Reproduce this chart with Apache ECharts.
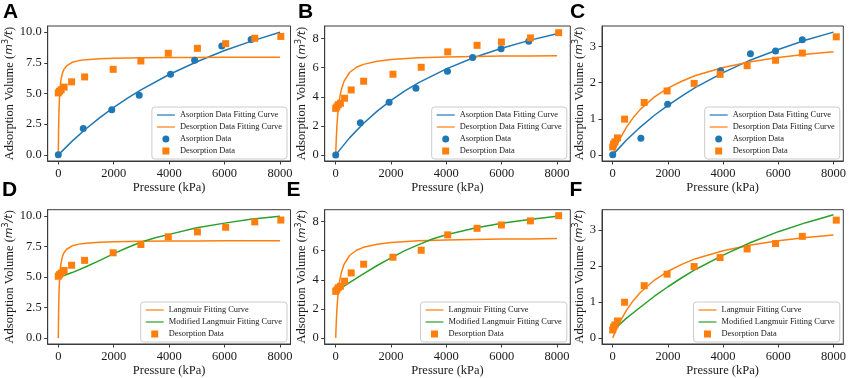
<!DOCTYPE html>
<html><head><meta charset="utf-8">
<script src="https://cdn.jsdelivr.net/npm/echarts@6/dist/echarts.min.js"></script>
<style>html,body{margin:0;padding:0;background:#fff}#c{width:850px;height:378px}</style>
</head><body><div id="c"></div>
<script>
// ---------- tick labels ----------
const pressureTicks = [0, 2000, 4000, 6000, 8000];
const ticksAD = [0, 2.5, 5, 7.5, 10];
const ticksBE = [0, 2, 4, 6, 8];
const ticksCF = [0, 1, 2, 3];

// ---------- Panel A / D ----------
const adsA_P = [0, 900, 1930, 2920, 4050, 4920, 5900, 6960];
const adsA_V = [0, 2.15, 3.68, 4.85, 6.57, 7.71, 8.88, 9.40];
const desA_P = [0, 40, 100, 210, 480, 950, 1980, 2980, 3970, 5020, 6040, 7090, 8030];
const desA_V = [5.05, 5.18, 5.3, 5.52, 5.95, 6.35, 6.97, 7.65, 8.28, 8.68, 9.06, 9.5, 9.65];
const fitAdsA_P = [0, 500, 1000, 1500, 2000, 2500, 3000, 4000, 5000, 6000, 7000, 8000];
const fitAdsA_V = [0, 1.12, 2.13, 3.04, 3.87, 4.63, 5.32, 6.55, 7.59, 8.50, 9.29, 9.99];
const langA_P = [0, 5, 10, 20, 30, 50, 75, 100, 150, 200, 300, 500, 750, 1000, 1500, 2000, 3000, 4000, 5000, 6000, 7000, 8000];
const langA_V = [0, 1.14, 2.0, 3.2, 4.0, 4.99, 5.71, 6.15, 6.66, 6.95, 7.26, 7.54, 7.68, 7.76, 7.83, 7.87, 7.91, 7.93, 7.94, 7.95, 7.96, 7.96];
const modA_P = [0, 250, 500, 1000, 1500, 2000, 2500, 3000, 3500, 4000, 5000, 6000, 7000, 8000];
const modA_V = [5.0, 5.15, 5.35, 5.83, 6.35, 6.9, 7.4, 7.85, 8.2, 8.48, 9.03, 9.4, 9.73, 9.97];

// ---------- Panel B / E ----------
const adsB_P = [0, 890, 1930, 2900, 4040, 4950, 5980, 6980];
const adsB_V = [0, 2.22, 3.63, 4.59, 5.76, 6.70, 7.31, 7.82];
const desB_P = [0, 40, 90, 170, 320, 560, 1010, 2070, 3090, 4050, 5110, 5990, 7040, 8060];
const desB_V = [3.2, 3.3, 3.45, 3.55, 3.9, 4.47, 5.07, 5.55, 6.03, 7.09, 7.54, 7.77, 8.05, 8.41];
const fitAdsB_P = [0, 500, 1000, 1500, 2000, 2500, 3000, 4000, 5000, 6000, 7000, 8000];
const fitAdsB_V = [0, 1.17, 2.16, 3.01, 3.75, 4.40, 4.97, 5.92, 6.70, 7.34, 7.88, 8.34];
const langB_P = [0, 10, 25, 50, 75, 100, 150, 200, 300, 500, 750, 1000, 1500, 2000, 3000, 4000, 5000, 6000, 7000, 8000];
const langB_V = [0, 0.58, 1.28, 2.16, 2.81, 3.30, 3.99, 4.46, 5.06, 5.67, 6.03, 6.23, 6.45, 6.56, 6.68, 6.73, 6.77, 6.80, 6.81, 6.83];
const modB_P = [0, 250, 500, 1000, 1500, 2000, 2500, 3000, 3500, 4000, 5000, 6000, 7000, 8000];
const modB_V = [3.15, 3.5, 3.8, 4.4, 4.98, 5.5, 6.0, 6.42, 6.8, 7.1, 7.55, 7.88, 8.15, 8.37];

// ---------- Panel C / F ----------
const adsC_P = [0, 1020, 1990, 3910, 4990, 5900, 6870];
const adsC_V = [0, 0.46, 1.40, 2.33, 2.80, 2.88, 3.19];
const desC_P = [0, 30, 80, 170, 430, 1140, 1970, 2950, 3890, 4870, 5900, 6870, 8100];
const desC_V = [0.22, 0.3, 0.36, 0.47, 0.99, 1.45, 1.77, 1.98, 2.23, 2.47, 2.62, 2.82, 3.27];
const fitAdsC_P = [0, 500, 1000, 1500, 2000, 2500, 3000, 4000, 5000, 6000, 7000, 8000];
const fitAdsC_V = [0, 0.41, 0.77, 1.09, 1.37, 1.63, 1.87, 2.28, 2.63, 2.92, 3.18, 3.40];
const langC_P = [0, 100, 250, 500, 750, 1000, 1500, 2000, 2500, 3000, 4000, 5000, 6000, 7000, 8000];
const langC_V = [0, 0.19, 0.43, 0.77, 1.04, 1.26, 1.60, 1.85, 2.04, 2.20, 2.42, 2.58, 2.70, 2.79, 2.86];
const modC_P = [0, 500, 1000, 1500, 2000, 2500, 3000, 4000, 5000, 6000, 7000, 8000];
const modC_V = [0.2, 0.55, 0.85, 1.15, 1.42, 1.67, 1.9, 2.3, 2.65, 2.95, 3.2, 3.42];

// ---------- names ----------
const N_FA = 'Asorption Data Fitting Curve';
const N_FD = 'Desorption Data Fitting Curve';
const N_A = 'Asorption Data';
const N_D = 'Desorption Data';
const N_L = 'Langmuir Fitting Curve';
const N_M = 'Modified Langmuir Fitting Curve';

// ---------- styling / layout ----------
const BLUE = '#1f77b4', ORANGE = '#ff7f0e', GREEN = '#2ca02c';
const SERIF = '"Liberation Serif", "Times New Roman", serif';
const SQUARE = 'path://M0,0L10,0L10,10L0,10Z';
const LINEICON = 'path://M0,0L24,0L24,1.6L0,1.6Z';
const FRAME = '#3a3a3a', TXT = '#1a1a1a';
const zip = (a, b) => a.map((v, i) => [v, b[i]]);

const cols = [
  {left: 47.7, right: 290.5, xmin: -383, xmax: 8380, gap: 30},
  {left: 324.7, right: 570.3, xmin: -398, xmax: 8481, gap: 14},
  {left: 602, right: 843.3, xmin: -389, xmax: 8355, gap: 13}
];
const rows = [{top: 26, bottom: 161}, {top: 209.7, bottom: 344}];

function line(name, P, V, color) {
  return {type: 'line', name, data: zip(P, V), symbol: 'none', showSymbol: false,
    lineStyle: {color, width: 1.5}, itemStyle: {color}, z: 2, animation: false};
}
function scat(name, P, V, color, sym) {
  return {type: 'scatter', name, data: zip(P, V), symbol: sym === 'sq' ? 'rect' : 'circle',
    symbolSize: 7, itemStyle: {color, opacity: 1}, z: 3, animation: false};
}

const panels = [
  {letter: 'A', col: 0, row: 0, ymin: -0.5, ymax: 10.5, yticks: ticksAD, dec: 1,
   series: [line(N_FA, fitAdsA_P, fitAdsA_V, BLUE), line(N_FD, langA_P, langA_V, ORANGE),
            scat(N_A, adsA_P, adsA_V, BLUE, 'c'), scat(N_D, desA_P, desA_V, ORANGE, 'sq')],
   legend: [N_FA, N_FD, N_A, N_D]},
  {letter: 'B', col: 1, row: 0, ymin: -0.42, ymax: 8.87, yticks: ticksBE, dec: 0,
   series: [line(N_FA, fitAdsB_P, fitAdsB_V, BLUE), line(N_FD, langB_P, langB_V, ORANGE),
            scat(N_A, adsB_P, adsB_V, BLUE, 'c'), scat(N_D, desB_P, desB_V, ORANGE, 'sq')],
   legend: [N_FA, N_FD, N_A, N_D]},
  {letter: 'C', col: 2, row: 0, ymin: -0.17, ymax: 3.57, yticks: ticksCF, dec: 0,
   series: [line(N_FA, fitAdsC_P, fitAdsC_V, BLUE), line(N_FD, langC_P, langC_V, ORANGE),
            scat(N_A, adsC_P, adsC_V, BLUE, 'c'), scat(N_D, desC_P, desC_V, ORANGE, 'sq')],
   legend: [N_FA, N_FD, N_A, N_D]},
  {letter: 'D', col: 0, row: 1, ymin: -0.5, ymax: 10.5, yticks: ticksAD, dec: 1,
   series: [line(N_L, langA_P, langA_V, ORANGE), line(N_M, modA_P, modA_V, GREEN),
            scat(N_D, desA_P, desA_V, ORANGE, 'sq')],
   legend: [N_L, N_M, N_D]},
  {letter: 'E', col: 1, row: 1, ymin: -0.42, ymax: 8.82, yticks: ticksBE, dec: 0,
   series: [line(N_L, langB_P, langB_V, ORANGE), line(N_M, modB_P, modB_V, GREEN),
            scat(N_D, desB_P, desB_V, ORANGE, 'sq')],
   legend: [N_L, N_M, N_D]},
  {letter: 'F', col: 2, row: 1, ymin: -0.17, ymax: 3.56, yticks: ticksCF, dec: 0,
   series: [line(N_L, langC_P, langC_V, ORANGE), line(N_M, modC_P, modC_V, GREEN),
            scat(N_D, desC_P, desC_V, ORANGE, 'sq')],
   legend: [N_L, N_M, N_D]}
];
const letterPos = {A: [3, 2], B: [298, 2], C: [570, 2], D: [2, 179.5], E: [286.5, 179.5], F: [569.5, 179.5]};

const option = {
  backgroundColor: '#fff', animation: false,
  grid: [], xAxis: [], yAxis: [], series: [], legend: [], graphic: []
};

panels.forEach((p, i) => {
  const c = cols[p.col], r = rows[p.row];
  option.grid.push({left: c.left, top: r.top, width: c.right - c.left, height: r.bottom - r.top,
    show: true, borderColor: FRAME, borderWidth: 1, backgroundColor: 'transparent', containLabel: false});
  option.xAxis.push({type: 'value', gridIndex: i, min: c.xmin, max: c.xmax,
    name: 'Pressure (kPa)', nameLocation: 'middle', nameGap: 19,
    nameTextStyle: {fontFamily: SERIF, fontSize: 12.5, color: TXT},
    axisLine: {show: true, onZero: false, lineStyle: {color: FRAME, width: 1}},
    axisTick: {show: true, customValues: pressureTicks, length: 3.5, lineStyle: {color: FRAME}},
    axisLabel: {customValues: pressureTicks, fontFamily: SERIF, fontSize: 12.5, color: TXT, margin: 6,
      formatter: v => String(Math.round(v))},
    splitLine: {show: false}});
  option.yAxis.push({type: 'value', gridIndex: i, min: p.ymin, max: p.ymax,
    name: '{a|Adsorption Volume (}{i|m}{s|3}{i|/t}{a|)}', nameLocation: 'middle', nameGap: c.gap,
    nameTextStyle: {fontFamily: SERIF, fontSize: 12.5, color: TXT,
      rich: {a: {fontFamily: SERIF, fontSize: 12.5, color: TXT, lineHeight: 15},
             i: {fontFamily: '"DejaVu Sans"', fontStyle: 'italic', fontSize: 11, color: TXT, lineHeight: 15},
             s: {fontFamily: '"DejaVu Sans"', fontSize: 8, color: TXT, verticalAlign: 'top', lineHeight: 15}}},
    axisLine: {show: true, onZero: false, lineStyle: {color: FRAME, width: 1}},
    axisTick: {show: true, customValues: p.yticks, length: 3.5, lineStyle: {color: FRAME}},
    axisLabel: {customValues: p.yticks, fontFamily: SERIF, fontSize: 12.5, color: TXT, margin: 6,
      formatter: v => Number(v).toFixed(p.dec)},
    splitLine: {show: false}});
  p.series.forEach(s => { option.series.push(Object.assign({}, s, {xAxisIndex: i, yAxisIndex: i})); });
  option.legend.push({
    data: p.legend.map(n => (n === N_D ? {name: n, icon: SQUARE} : (n === N_A ? {name: n, icon: 'circle'} : {name: n, icon: LINEICON}))),
    orient: 'vertical', right: 850 - (c.right - 3.5), bottom: 378 - (r.bottom - 2),
    itemWidth: 18, itemHeight: 7, itemGap: 4, selectedMode: false, symbolKeepAspect: true,
    textStyle: {fontFamily: SERIF, fontSize: 8.4, color: TXT},
    backgroundColor: 'rgba(255,255,255,0.85)', borderColor: '#cccccc', borderWidth: 1, borderRadius: 3,
    padding: [4, 5, 4, 5]
  });
  const lp = letterPos[p.letter];
  option.graphic.push({type: 'text', left: lp[0], top: lp[1],
    style: {text: p.letter, font: 'bold 21px "Liberation Sans", Arial, sans-serif', fill: '#000'}});
});

const chart = echarts.init(document.getElementById('c'), null, {renderer: 'canvas'});
chart.setOption(option);
</script></body></html>
